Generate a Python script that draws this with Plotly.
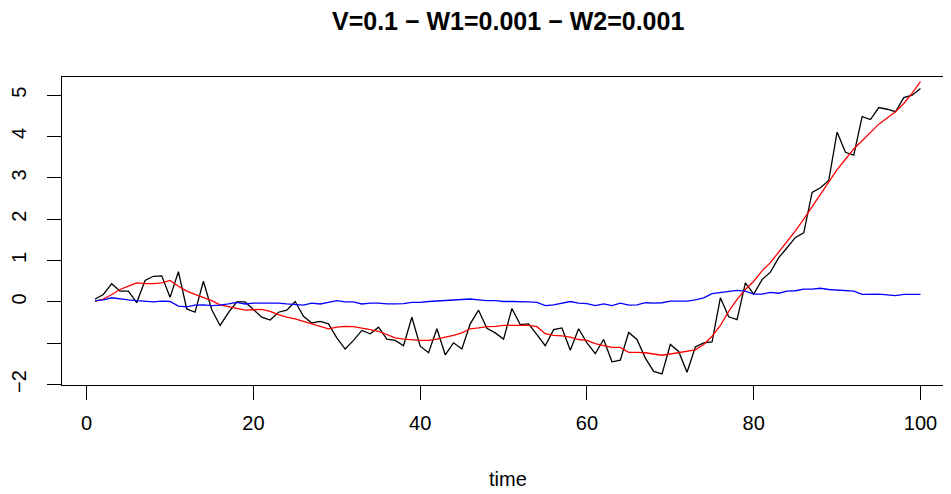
import plotly.graph_objects as go

time = list(range(1, 101))

observed = [0.07, 0.18, 0.44, 0.26, 0.26, -0.02, 0.52, 0.62, 0.63, 0.11,
            0.73, -0.17, -0.25, 0.50, -0.19, -0.57, -0.26, 0.00, 0.00, -0.19,
            -0.37, -0.44, -0.25, -0.20, 0.01, -0.35, -0.51, -0.47, -0.53, -0.87,
            -1.14, -0.93, -0.69, -0.77, -0.61, -0.90, -0.93, -1.06, -0.37, -1.07,
            -1.23, -0.65, -1.28, -0.99, -1.14, -0.53, -0.20, -0.64, -0.75, -0.90,
            -0.16, -0.55, -0.53, -0.79, -1.06, -0.67, -0.63, -1.17, -0.65, -0.99,
            -1.25, -0.91, -1.45, -1.41, -0.74, -0.91, -1.36, -1.68, -1.74, -1.03,
            -1.20, -1.70, -1.09, -0.99, -0.97, 0.10, -0.36, -0.43, 0.46, 0.19,
            0.54, 0.72, 1.07, 1.31, 1.56, 1.67, 2.65, 2.76, 2.94, 4.11,
            3.62, 3.55, 4.48, 4.41, 4.70, 4.66, 4.60, 4.94, 5.00, 5.16]

level = [0.01, 0.07, 0.18, 0.30, 0.38, 0.46, 0.44, 0.44, 0.46, 0.52,
         0.38, 0.26, 0.18, 0.11, 0.03, -0.07, -0.11, -0.15, -0.20, -0.19,
         -0.18, -0.23, -0.31, -0.37, -0.41, -0.47, -0.53, -0.59, -0.65, -0.61,
         -0.59, -0.60, -0.63, -0.67, -0.71, -0.79, -0.87, -0.90, -0.92, -0.93,
         -0.93, -0.90, -0.85, -0.81, -0.75, -0.65, -0.63, -0.60, -0.59, -0.57,
         -0.57, -0.57, -0.57, -0.60, -0.77, -0.81, -0.82, -0.85, -0.91, -0.93,
         -1.01, -1.06, -1.10, -1.10, -1.22, -1.22, -1.23, -1.26, -1.29, -1.26,
         -1.23, -1.20, -1.16, -1.03, -0.83, -0.57, -0.23, 0.06, 0.30, 0.50,
         0.75, 0.95, 1.20, 1.45, 1.72, 2.00, 2.30, 2.60, 2.90, 3.20,
         3.45, 3.70, 3.90, 4.10, 4.30, 4.45, 4.60, 4.80, 5.05, 5.33]

slope = [0.03, 0.05, 0.10, 0.07, 0.05, 0.03, 0.01, 0.00, 0.02, 0.01,
         -0.10, -0.12, -0.08, -0.07, -0.09, -0.08, -0.05, -0.01, -0.05, -0.03,
         -0.03, -0.03, -0.03, -0.05, -0.07, -0.08, -0.03, -0.05, -0.01, 0.03,
         0.00, 0.00, -0.05, -0.03, -0.03, -0.05, -0.05, -0.04, -0.01, -0.01,
         0.01, 0.02, 0.04, 0.04, 0.05, 0.07, 0.05, 0.03, 0.03, 0.01,
         0.01, 0.01, 0.00, -0.01, -0.09, -0.07, -0.03, 0.01, -0.03, -0.04,
         -0.09, -0.05, -0.09, -0.03, -0.08, -0.07, -0.02, -0.03, -0.02, 0.02,
         0.02, 0.02, 0.05, 0.10, 0.20, 0.23, 0.25, 0.28, 0.26, 0.19,
         0.19, 0.23, 0.21, 0.26, 0.27, 0.31, 0.31, 0.33, 0.30, 0.29,
         0.28, 0.26, 0.18, 0.18, 0.19, 0.17, 0.15, 0.18, 0.18, 0.18]

x_ticks = [0, 20, 40, 60, 80, 100]
y_ticks = [-2, -1, 0, 1, 2, 3, 4, 5]
y_ticktext = ["\u22122", "", "0", "1", "2", "3", "4", "5"]

title_text = "V=0.1 \u2212 W1=0.001 \u2212 W2=0.001"
FONT = "Liberation Sans, Arial, Helvetica, sans-serif"

fig = go.Figure()
fig.add_trace(go.Scatter(x=time, y=observed, mode="lines",
                         line=dict(color="black", width=1.3), showlegend=False))
fig.add_trace(go.Scatter(x=time, y=level, mode="lines",
                         line=dict(color="#FF0000", width=1.3), showlegend=False))
fig.add_trace(go.Scatter(x=time, y=slope, mode="lines",
                         line=dict(color="#0000FF", width=1.3), showlegend=False))

# page body has an 8px margin, so the figure is sized to the remaining viewport
fig.update_layout(
    width=943, height=486,
    margin=dict(l=52, r=0, t=69, b=109),
    paper_bgcolor="white", plot_bgcolor="white",
    font=dict(family=FONT, size=20, color="black"),
    showlegend=False,
)
fig.update_xaxes(
    range=[-2.96, 103.66], tickvals=x_ticks, ticks="outside", ticklen=14,
    tickwidth=1, tickcolor="black", showline=True, linecolor="black",
    linewidth=1, mirror=True, showgrid=False, zeroline=False,
    ticklabelstandoff=6, tickfont=dict(size=20),
)
fig.update_yaxes(
    range=[-2.01, 5.44], tickvals=y_ticks, ticktext=y_ticktext,
    ticks="outside", ticklen=14, tickwidth=1, tickcolor="black",
    showline=True, linecolor="black", linewidth=1, mirror=False,
    showgrid=False, zeroline=False, tickangle=-90,
    ticklabelstandoff=13, tickfont=dict(size=20),
)
fig.add_annotation(text="<b>" + title_text + "</b>", xref="paper", yref="paper",
                   x=0.5017, y=1.1818, xanchor="center", yanchor="middle",
                   showarrow=False, font=dict(size=25, family=FONT))
fig.add_annotation(text="time", xref="paper", yref="paper",
                   x=0.5017, y=-0.305, xanchor="center", yanchor="middle",
                   showarrow=False, font=dict(size=20, family=FONT))

fig.write_html("out.html")
